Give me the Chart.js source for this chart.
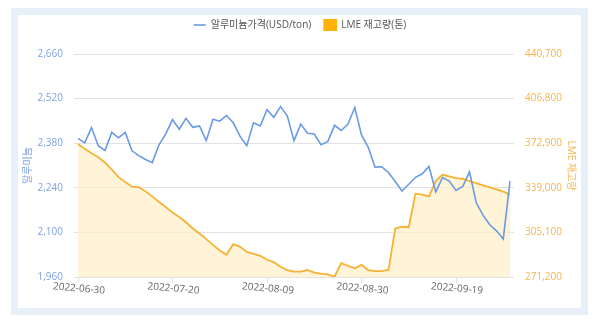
<!DOCTYPE html>
<html>
<head>
<meta charset="utf-8">
<script src="https://cdn.jsdelivr.net/npm/chart.js@4/dist/chart.umd.min.js"></script>
<style>
html,body{margin:0;padding:0;background:#fff;}
#frame{position:absolute;left:11px;top:8px;width:577px;height:307px;border:7px solid #e7eff9;box-sizing:border-box;}
#wrap{position:absolute;left:0;top:0;width:600px;height:324px;}
</style>
</head>
<body>
<div id="frame"></div>
<div id="wrap"><canvas id="c" width="600" height="324"></canvas></div>
<script>
const dates = [
 '2022-06-30','2022-07-01','2022-07-04','2022-07-05','2022-07-06','2022-07-07','2022-07-08','2022-07-11','2022-07-12','2022-07-13',
 '2022-07-14','2022-07-15','2022-07-18','2022-07-19','2022-07-20','2022-07-21','2022-07-22','2022-07-25','2022-07-26','2022-07-27',
 '2022-07-28','2022-07-29','2022-08-01','2022-08-02','2022-08-03','2022-08-04','2022-08-05','2022-08-08','2022-08-09','2022-08-10',
 '2022-08-11','2022-08-12','2022-08-15','2022-08-16','2022-08-17','2022-08-18','2022-08-19','2022-08-22','2022-08-23','2022-08-24',
 '2022-08-25','2022-08-26','2022-08-30','2022-08-31','2022-09-01','2022-09-02','2022-09-05','2022-09-06','2022-09-07','2022-09-08',
 '2022-09-09','2022-09-12','2022-09-13','2022-09-14','2022-09-15','2022-09-16','2022-09-19','2022-09-20','2022-09-21','2022-09-22',
 '2022-09-23','2022-09-26','2022-09-27','2022-09-28','2022-09-29'
];
const aluminumPrice = [
 2395,2381,2429,2372,2357,2414,2397,2414,2356,2341,
 2329,2319,2375,2409,2454,2424,2458,2430,2434,2388,
 2455,2449,2467,2444,2402,2372,2444,2434,2485,2461,
 2495,2466,2388,2440,2411,2409,2375,2385,2436,2420,
 2440,2492,2406,2367,2305,2306,2288,2260,2230,2251,
 2273,2284,2307,2227,2272,2261,2232,2244,2290,2193,
 2154,2124,2105,2079,2261
];
const lmeStock = [
 372350,368600,365260,362230,358220,352920,347100,343320,339830,339530,
 336280,332490,328180,324400,320160,316830,312820,308040,304260,299950,
 295640,291410,288080,296170,294130,290350,288840,287330,284300,282560,
 279040,276500,275210,275210,276500,274480,273720,273220,271460,281790,
 279740,277760,280510,276500,275740,275740,276750,308040,309400,309070,
 334540,333790,332490,344070,348910,347630,346330,345880,344070,342560,
 340820,339310,337790,336050,334010
];
const priceTicks = [1960,2100,2240,2380,2520,2660];
const stockTicks = [271200,305100,339000,372900,406800,440700];
const seriesNames = ['알루미늄가격(USD/ton)','LME 재고량(톤)'];
const axisTitles = ['알루미늄','LME 재고량'];
const labelEvery = 14;

const FONT = "'Open Sans','Noto Sans CJK KR',sans-serif";
const BLUE = '#6a9ae3', BLUE_TXT = '#7fa2e0';
const ORANGE = '#f7b234', ORANGE_TXT = '#f5b54a';
const GRID = '#e2e2e2';

const legendGap = {
  id: 'legendGap',
  beforeUpdate(chart) {
    const l = chart.legend;
    if (l && !l._gapPatched) {
      const f = l.fit;
      l.fit = function () { f.call(this); this.height += 14; };
      l._gapPatched = true;
    }
  }
};

new Chart(document.getElementById('c'), {
  type: 'line',
  plugins: [legendGap],
  data: {
    labels: dates,
    datasets: [
      {label: seriesNames[0], data: aluminumPrice, yAxisID: 'y', borderColor: BLUE, backgroundColor: BLUE,
       borderWidth: 1.6, pointRadius: 0, tension: 0, fill: false, pointStyle: 'line'},
      {label: seriesNames[1], data: lmeStock, yAxisID: 'y1', borderColor: ORANGE, backgroundColor: 'rgba(255,240,200,0.7)',
       borderWidth: 1.8, pointRadius: 0, tension: 0, fill: 'start', pointStyle: 'rect'}
    ]
  },
  options: {
    responsive: false,
    animation: false,
    events: [],
    layout: {padding: {top: 7, bottom: 0, left: 0, right: 0}},
    plugins: {
      tooltip: {enabled: false},
      legend: {
        position: 'top',
        labels: {
          usePointStyle: true, pointStyleWidth: 12, boxHeight: 10, padding: 13,
          color: '#555', font: {family: FONT, size: 10},
          generateLabels(chart) {
            const items = Chart.defaults.plugins.legend.labels.generateLabels(chart);
            items[1].fillStyle = '#ffb300'; items[1].strokeStyle = '#ffb300';
            return items;
          }
        }
      }
    },
    scales: {
      x: {
        offset: false,
        grid: {drawOnChartArea: false, tickLength: 6,
               tickColor: c => (c.index % labelEvery === 0 ? GRID : 'rgba(0,0,0,0)')},
        border: {display: false},
        ticks: {autoSkip: false, minRotation: -5, maxRotation: -5, labelOffset: 27, padding: 2,
                color: '#666', font: {family: FONT, size: 10},
                callback(v, i) { return i % labelEvery === 0 ? dates[i] : ''; }},
        afterFit(s) { s.height = 47; }
      },
      y: {
        position: 'left', min: priceTicks[0], max: priceTicks[priceTicks.length - 1],
        afterBuildTicks(s) { s.ticks = priceTicks.map(v => ({value: v})); },
        grid: {color: GRID, tickLength: 4},
        border: {display: false},
        ticks: {color: BLUE_TXT, padding: 11, font: {family: FONT, size: 10},
                callback: v => v.toLocaleString('en-US')},
        title: {display: true, text: axisTitles[0], color: BLUE_TXT, padding: {top: 22, bottom: 0},
                font: {family: FONT, size: 10}},
        afterFit(s) { s.width = 78; }
      },
      y1: {
        position: 'right', min: stockTicks[0], max: stockTicks[stockTicks.length - 1],
        afterBuildTicks(s) { s.ticks = stockTicks.map(v => ({value: v})); },
        grid: {drawOnChartArea: false, color: GRID, tickLength: 4},
        border: {display: false},
        ticks: {color: ORANGE_TXT, padding: 11, font: {family: FONT, size: 10},
                callback: v => v.toLocaleString('en-US')},
        title: {display: true, text: axisTitles[1], color: ORANGE_TXT, padding: {top: 23, bottom: 0},
                font: {family: FONT, size: 10}},
        afterFit(s) { s.width = 90; }
      }
    }
  }
});
</script>
</body>
</html>
